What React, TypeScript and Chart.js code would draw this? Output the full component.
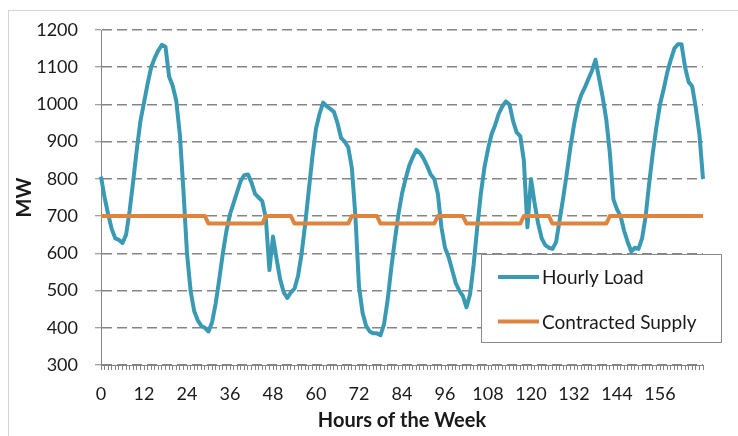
import React, { useEffect, useRef } from 'react';
import { Chart, registerables } from 'chart.js';

Chart.register(...registerables);

// Hourly load (MW), hours 0..168
const hourlyLoad = [
  806, 750, 705, 665, 640, 636, 628, 650, 715, 795, 880, 955, 1005, 1055, 1100, 1125, 1145, 1160, 1155, 1075,
  1050, 1010, 920, 770, 600, 500, 445, 420, 405, 400, 390, 415, 465, 530, 600, 660, 705, 735, 765, 795,
  810, 812, 790, 760, 750, 740, 695, 555, 645, 585, 530, 495, 480, 495, 505, 540, 600, 680, 770, 860,
  935, 975, 1005, 995, 988, 980, 950, 910, 900, 885, 830, 700, 510, 440, 405, 390, 385, 385, 380, 410,
  475, 560, 635, 705, 760, 800, 835, 858, 878, 870, 855, 835, 812, 800, 760, 670, 615, 590, 555, 520,
  500, 485, 455, 490, 570, 670, 760, 830, 880, 920, 945, 975, 995, 1008, 1000, 955, 925, 915, 850, 670,
  800, 735, 680, 640, 622, 615, 612, 630, 690, 750, 815, 885, 945, 995, 1025, 1045, 1068, 1090, 1120, 1070,
  1020, 960, 870, 745, 718, 700, 660, 630, 605, 615, 612, 640, 700, 790, 870, 940, 1000, 1040, 1085, 1120,
  1150, 1162, 1162, 1100, 1060, 1048, 990, 920, 800,
];

// Contracted supply (MW), hours 0..168
const contractedSupply = [
  700, 700, 700, 700, 700, 700, 700, 700, 700, 700, 700, 700, 700, 700, 700, 700, 700, 700, 700, 700,
  700, 700, 700, 700, 700, 700, 700, 700, 700, 700, 680, 680, 680, 680, 680, 680, 680, 680, 680, 680,
  680, 680, 680, 680, 680, 680, 700, 700, 700, 700, 700, 700, 700, 700, 680, 680, 680, 680, 680, 680,
  680, 680, 680, 680, 680, 680, 680, 680, 680, 680, 700, 700, 700, 700, 700, 700, 700, 700, 680, 680,
  680, 680, 680, 680, 680, 680, 680, 680, 680, 680, 680, 680, 680, 680, 700, 700, 700, 700, 700, 700,
  700, 700, 680, 680, 680, 680, 680, 680, 680, 680, 680, 680, 680, 680, 680, 680, 680, 680, 700, 700,
  700, 700, 700, 700, 700, 700, 680, 680, 680, 680, 680, 680, 680, 680, 680, 680, 680, 680, 680, 680,
  680, 680, 700, 700, 700, 700, 700, 700, 700, 700, 700, 700, 700, 700, 700, 700, 700, 700, 700, 700,
  700, 700, 700, 700, 700, 700, 700, 700, 700,
];

const hours = hourlyLoad.map((_, i) => i);
const xTickLabels = ['0', '12', '24', '36', '48', '60', '72', '84', '96', '108', '120', '132', '144', '156'];
const yMin = 300;
const yMax = 1200;
const yStep = 100;
const seriesNames = ['Hourly Load', 'Contracted Supply'];
const seriesColors = ['#3A9AB4', '#DF843F'];

const FONT = 'Lato, "Open Sans", sans-serif';

const outerBorder = {
  id: 'outerBorder',
  beforeDraw(chart: any) {
    const { ctx } = chart;
    ctx.save();
    ctx.fillStyle = '#ffffff';
    ctx.fillRect(0, 0, chart.width, chart.height);
    ctx.strokeStyle = '#d4d4d4';
    ctx.lineWidth = 1;
    ctx.strokeRect(8.5, 10.5, 900, 600);
    ctx.restore();
  },
};

const boxLegend = {
  id: 'boxLegend',
  afterDatasetsDraw(chart: any) {
    const { ctx } = chart;
    const bx = 481.5, by = 254.5, bw = 240, bh = 88;
    ctx.save();
    ctx.fillStyle = '#ffffff';
    ctx.fillRect(bx, by, bw, bh);
    ctx.strokeStyle = '#8a8a8a';
    ctx.lineWidth = 1;
    ctx.strokeRect(bx, by, bw, bh);
    const order = [...chart.data.datasets].sort((a: any, b: any) => a.legendIndex - b.legendIndex);
    order.forEach((ds: any, i: number) => {
      const cy = 277 + i * 44.5;
      ctx.strokeStyle = ds.borderColor;
      ctx.lineWidth = 4;
      ctx.lineCap = 'butt';
      ctx.beginPath();
      ctx.moveTo(498, cy);
      ctx.lineTo(539, cy);
      ctx.stroke();
      ctx.fillStyle = '#1a1a1a';
      ctx.font = `19px ${FONT}`;
      ctx.textBaseline = 'middle';
      ctx.textAlign = 'left';
      ctx.fillText(ds.label, 542, cy + 1);
    });
    ctx.restore();
  },
};

export default function App() {
  const canvasRef = useRef<HTMLCanvasElement | null>(null);

  useEffect(() => {
    document.body.style.margin = '0';
    const canvas = canvasRef.current;
    if (!canvas) return;
    const chart = new Chart(canvas, {
      type: 'line',
      data: {
        labels: hours.map(String),
        datasets: [
          {
            label: seriesNames[0],
            data: hourlyLoad,
            borderColor: seriesColors[0],
            backgroundColor: seriesColors[0],
            borderWidth: 4,
            pointRadius: 0,
            tension: 0,
            borderJoinStyle: 'round',
            order: 2,
            legendIndex: 0,
          } as any,
          {
            label: seriesNames[1],
            data: contractedSupply,
            borderColor: seriesColors[1],
            backgroundColor: seriesColors[1],
            borderWidth: 4,
            pointRadius: 0,
            tension: 0,
            borderJoinStyle: 'round',
            order: 1,
            legendIndex: 1,
          } as any,
        ],
      },
      options: {
        animation: false,
        responsive: false,
        maintainAspectRatio: false,
        events: [],
        layout: { padding: { top: 30, right: 35, left: 0, bottom: 0 } },
        plugins: {
          legend: { display: false },
          tooltip: { enabled: false },
          title: { display: false },
        },
        scales: {
          x: {
            type: 'category',
            offset: false,
            grid: {
              display: true,
              drawOnChartArea: false,
              drawTicks: true,
              tickLength: 5,
              color: '#858585',
              offset: false,
            },
            border: { display: true, color: '#858585', width: 1 },
            ticks: {
              autoSkip: false,
              maxRotation: 0,
              minRotation: 0,
              padding: 13,
              color: '#1a1a1a',
              font: { family: FONT, size: 18 },
              callback: (_v: any, i: number) =>
                xTickLabels.includes(String(hours[i])) ? String(hours[i]) : '',
            },
            title: {
              display: true,
              text: 'Hours of the Week',
              color: '#1a1a1a',
              font: { family: FONT, size: 20, weight: 'bold' },
              padding: { top: 0, bottom: 3 },
            },
            afterFit: (s: any) => {
              s.height = 71;
            },
          },
          y: {
            min: yMin,
            max: yMax,
            ticks: {
              stepSize: yStep,
              padding: 17,
              color: '#1a1a1a',
              font: { family: FONT, size: 18 },
              callback: (v: any) => String(v),
            },
            grid: {
              color: '#858585',
              lineWidth: 1.5,
              tickLength: 6,
              tickColor: '#858585',
              tickWidth: 1,
              drawTicks: true,
            },
            border: { display: true, color: '#858585', width: 1, dash: [10, 5] },
            title: {
              display: true,
              text: 'MW',
              color: '#1a1a1a',
              font: { family: FONT, size: 20, weight: 'bold' },
              padding: { top: 13, bottom: 0 },
            },
            afterFit: (s: any) => {
              s.width = 101;
            },
          },
        },
      } as any,
      plugins: [outerBorder, boxLegend],
    });
    return () => chart.destroy();
  }, []);

  return (
    <div style={{ position: 'absolute', left: 0, top: 0, width: 738, height: 436 }}>
      <canvas ref={canvasRef} width={738} height={436} style={{ display: 'block', width: 738, height: 436 }} />
    </div>
  );
}
